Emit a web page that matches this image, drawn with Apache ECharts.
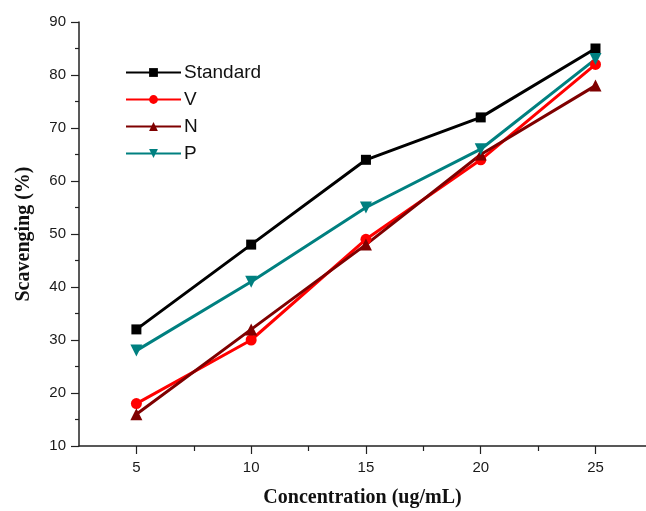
<!DOCTYPE html>
<html><head><meta charset="utf-8">
<script src="https://cdn.jsdelivr.net/npm/echarts@6/dist/echarts.min.js"></script>
<style>html,body{margin:0;padding:0;background:#fff}#c{width:646px;height:511px}</style>
</head><body><div id="c"></div>
<script>
const concentrations = [5, 10, 15, 20, 25];
const standardVals = [32, 48, 64, 72, 85];
const vVals = [18, 30, 49, 64, 82];
const nVals = [16, 32, 48, 65, 78];
const pVals = [28, 41, 55, 66, 83];
const xMajorTicks = [5, 10, 15, 20, 25];
const xMinorTicks = [7.5, 12.5, 17.5, 22.5];

const pairs = v => concentrations.map((c, i) => [c, v[i]]);
const chart = echarts.init(document.getElementById('c'), null, {renderer: 'canvas'});
const tickFont = {fontFamily: 'Liberation Sans', fontSize: 15, color: '#1a1a1a'};
const mk = (name, data, color, symbol, size, rot) => ({
  name, type: 'line', data: pairs(data), symbol, symbolSize: size, symbolRotate: rot || 0,
  lineStyle: {color, width: 3}, itemStyle: {color}, z: 3
});
chart.setOption({
  animation: false,
  grid: {left: 79, right: 0, top: 22, bottom: 65, outerBoundsMode: 'none', containLabel: false},
  legend: {
    left: 125, top: 63, padding: 0, orient: 'vertical', itemWidth: 55, itemHeight: 11, itemGap: 8,
    textStyle: {fontFamily: 'Liberation Sans', fontSize: 19, color: '#111', padding: [0, 0, 0, -2]},
    data: ['Standard', 'V', 'N', 'P']
  },
  xAxis: [{
    type: 'value', min: 2.5, max: 27.2,
    name: 'Concentration (ug/mL)', nameLocation: 'middle', nameGap: 42,
    nameTextStyle: {fontFamily: 'Liberation Serif', fontWeight: 'bold', fontSize: 20, color: '#111'},
    axisLine: {onZero: false, lineStyle: {color: '#222', width: 1.5}},
    axisTick: {customValues: xMajorTicks, length: 8, lineStyle: {color: '#222', width: 1.2}},
    axisLabel: Object.assign({customValues: xMajorTicks, margin: 14}, tickFont),
    splitLine: {show: false}
  }, {
    type: 'value', min: 2.5, max: 27.2, position: 'bottom',
    axisLine: {show: false},
    axisTick: {customValues: xMinorTicks, length: 5, lineStyle: {color: '#222', width: 1.2}},
    axisLabel: {show: false}, splitLine: {show: false}
  }],
  yAxis: {
    type: 'value', min: 10, max: 90, interval: 10,
    name: 'Scavenging (%)', nameLocation: 'middle', nameGap: 45,
    nameTextStyle: {fontFamily: 'Liberation Serif', fontWeight: 'bold', fontSize: 20, color: '#111'},
    axisLine: {show: true, lineStyle: {color: '#222', width: 1.5}},
    axisTick: {show: true, length: 8, lineStyle: {color: '#222', width: 1.2}},
    minorTick: {show: true, splitNumber: 2, length: 4, lineStyle: {color: '#222', width: 1.2}},
    axisLabel: Object.assign({margin: 13}, tickFont),
    splitLine: {show: false}
  },
  series: [
    mk('Standard', standardVals, '#000000', 'rect', 10),
    mk('V', vVals, '#ff0000', 'circle', 11),
    mk('N', nVals, '#7f0000', 'triangle', 12),
    mk('P', pVals, '#008080', 'triangle', 12, 180)
  ]
});
</script></body></html>
